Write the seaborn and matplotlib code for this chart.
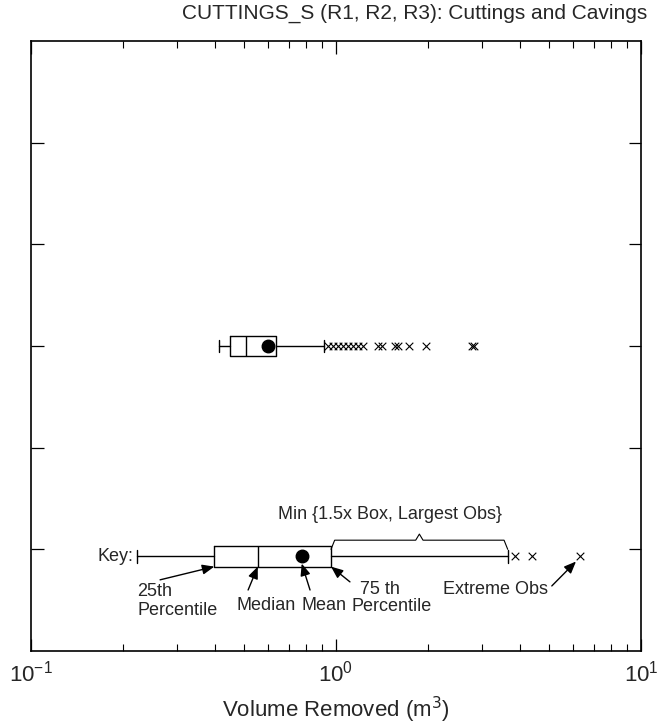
import numpy as np
import matplotlib
matplotlib.use("Agg")
import matplotlib.pyplot as plt
import matplotlib.ticker as mticker
import seaborn as sns

# box statistics (m^3)
rows = ["CUTTINGS_S", "Key"]
row_pos = [3.0, 5.07]
whislo = [0.4135, 0.2231]
q1 = [0.449, 0.399]
med = [0.506, 0.554]
q3 = [0.636, 0.963]
whishi = [0.913, 3.656]
means = [0.598, 0.772]
fliers_main = [0.944, 0.980, 1.017, 1.057, 1.097, 1.139, 1.183, 1.229,
               1.376, 1.412, 1.561, 1.601, 1.739, 1.973, 2.786, 2.835]
fliers_key = [3.863, 4.38, 6.31]

sns.set_theme(style="ticks")
plt.rcParams['font.family'] = ['Liberation Sans', 'DejaVu Sans']

fig = plt.figure(figsize=(6.57, 7.27), dpi=100)
ax = fig.add_axes([31 / 657, 1 - 651 / 727, (641 - 31) / 657, (651 - 41) / 727])

stats = []
for i in range(len(rows)):
    stats.append(dict(label=rows[i], whislo=whislo[i], q1=q1[i], med=med[i],
                      q3=q3[i], whishi=whishi[i], mean=means[i], fliers=[]))

lp = dict(color='black', linewidth=1.0)
ax.bxp(stats, positions=row_pos, widths=0.2, orientation='horizontal',
       showmeans=True, showfliers=False, capwidths=0.12,
       boxprops=lp, whiskerprops=lp, capprops=lp,
       medianprops=lp,
       meanprops=dict(marker='o', markerfacecolor='black',
                      markeredgecolor='black', markersize=9))

sns.scatterplot(x=fliers_main, y=[row_pos[0]] * len(fliers_main), ax=ax,
                marker='x', color='black', s=30, linewidth=0.8, legend=False)
sns.scatterplot(x=fliers_key, y=[row_pos[1]] * len(fliers_key), ax=ax,
                marker='x', color='black', s=30, linewidth=0.8, legend=False)

ax.set_xscale('log')
ax.set_xlim(0.1, 10)
ax.set_ylim(6, 0)
ax.set_yticks([1, 2, 3, 4, 5])
ax.set_yticklabels([])
ax.set_xticks([0.1, 1, 10])
ax.xaxis.set_major_formatter(mticker.LogFormatterMathtext())
ax.xaxis.set_minor_locator(mticker.LogLocator(subs=np.arange(2, 10)))
ax.xaxis.set_minor_formatter(mticker.NullFormatter())
ax.tick_params(axis='both', which='major', direction='in', length=9,
               width=0.9, color='black', top=True, right=True,
               labelsize=16, pad=7)
ax.tick_params(axis='x', which='minor', direction='in', length=5,
               width=0.8, color='black', top=True)
for sp in ax.spines.values():
    sp.set_linewidth(1.2)
    sp.set_color('black')

ax.set_xlabel('Volume Removed (m$^3$)', fontsize=16, labelpad=6)
fig.text(647 / 657, 1 - 13 / 727,
         'CUTTINGS_S (R1, R2, R3): Cuttings and Cavings',
         ha='right', va='center', fontsize=15)

# key annotations
k = row_pos[1]
fs = 13
arrow = dict(arrowstyle='-|>,head_length=0.6,head_width=0.25',
             color='black', lw=1.0, shrinkA=0, shrinkB=0)
ax.text(0.216, k, 'Key:', ha='right', va='center', fontsize=fs)
ax.text(0.2228, 5.33, '25th\nPercentile', ha='left', va='top', fontsize=fs,
        linespacing=1.15)
ax.annotate('', xy=(q1[1], k + 0.1), xytext=(0.265, 5.30), arrowprops=arrow)
ax.text(0.589, 5.55, 'Median', ha='center', va='center', fontsize=fs)
ax.annotate('', xy=(med[1], k + 0.1), xytext=(0.515, 5.40), arrowprops=arrow)
ax.text(0.913, 5.55, 'Mean', ha='center', va='center', fontsize=fs)
ax.annotate('', xy=(means[1], k + 0.07), xytext=(0.822, 5.40), arrowprops=arrow)
ax.text(1.394, 5.40, '75 th', ha='center', va='center', fontsize=fs)
ax.text(1.526, 5.56, 'Percentile', ha='center', va='center', fontsize=fs)
ax.annotate('', xy=(q3[1], k + 0.1), xytext=(1.111, 5.32), arrowprops=arrow)
ax.text(4.955, 5.40, 'Extreme Obs', ha='right', va='center', fontsize=fs)
ax.annotate('', xy=(fliers_key[-1] * 0.97, k + 0.05), xytext=(5.1, 5.36),
            arrowprops=arrow)

# brace over the upper whisker
la, lb = np.log10(q3[1]), np.log10(whishi[1])
lm = (la + lb) / 2
d = 0.012
bx = [la, la + d, lm - d, lm, lm + d, lb - d, lb]
by = [5.0, 4.91, 4.91, 4.85, 4.91, 4.91, 5.0]
ax.plot(10 ** np.array(bx), by, color='black', lw=0.8)
ax.text(1.503, 4.66, 'Min {1.5x Box, Largest Obs}', ha='center',
        va='center', fontsize=fs)

fig.savefig('out.png', dpi=100)
